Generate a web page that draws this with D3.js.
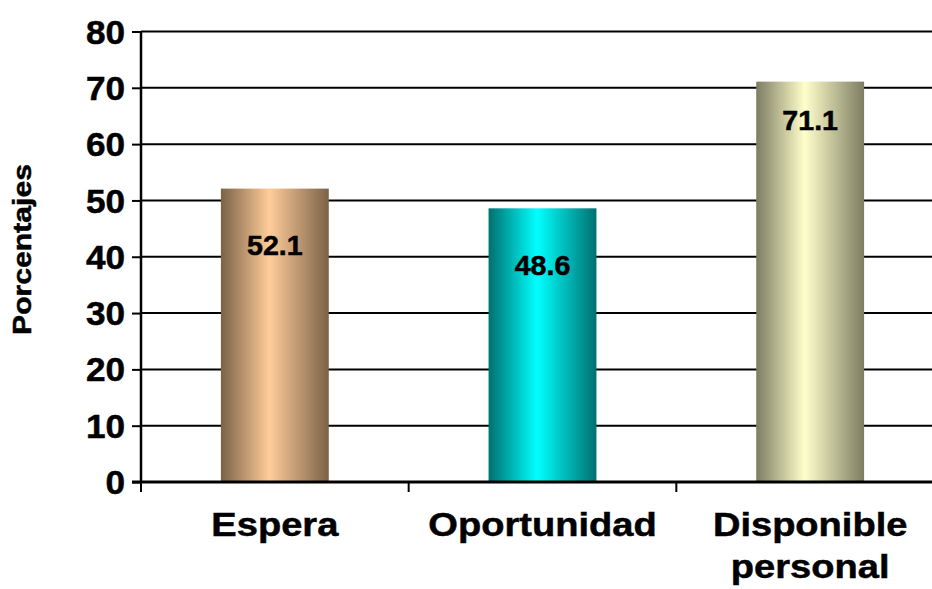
<!DOCTYPE html>
<html>
<head>
<meta charset="utf-8">
<script src="https://cdn.jsdelivr.net/npm/d3@7"></script>
<style>
  html, body { margin: 0; padding: 0; background: #fff; }
  svg { display: block; }
  text { font-family: "Liberation Sans", Arial, sans-serif; font-weight: bold; fill: #000; stroke: #000; stroke-width: 0.5px; }
</style>
</head>
<body>
<svg id="chart" width="932" height="589"></svg>
<script>
const categories = [["Espera"], ["Oportunidad"], ["Disponible", "personal"]];
const values = [52.1, 48.6, 71.1];
const valueLabels = ["52.1", "48.6", "71.1"];
const yTicks = [0, 10, 20, 30, 40, 50, 60, 70, 80];
const axisTitle = "Porcentajes";
const barColors = [
  { edge: "#7a6248", light: "#ffcc99" },
  { edge: "#007070", light: "#00ffff" },
  { edge: "#7d7d62", light: "#ffffcc" }
];
// label centre sits this many units below the bar top (style)
const labelDrop = [10.1, 10.1, 6.8];

const svg = d3.select("#chart");
const plotL = 141, plotR = 944, plotT = 31.5, plotB = 482;

const x = d3.scaleBand().domain(d3.range(categories.length)).range([plotL, plotR]).padding(0);
const y = d3.scaleLinear().domain([0, 80]).range([plotB, plotT]);
const barW = x.bandwidth() * 0.403;

const defs = svg.append("defs");
barColors.forEach((c, i) => {
  const g = defs.append("linearGradient").attr("id", "g" + i)
    .attr("x1", "0%").attr("x2", "100%").attr("y1", "0%").attr("y2", "0%");
  g.append("stop").attr("offset", "0%").attr("stop-color", c.edge);
  g.append("stop").attr("offset", "45%").attr("stop-color", c.light);
  g.append("stop").attr("offset", "100%").attr("stop-color", c.edge);
});

// gridlines
svg.append("g").selectAll("line").data(yTicks.filter(d => d > 0)).join("line")
  .attr("x1", plotL).attr("x2", 932)
  .attr("y1", d => y(d)).attr("y2", d => y(d))
  .attr("stroke", "#000").attr("stroke-width", 2);

// bars
svg.append("g").selectAll("rect").data(values).join("rect")
  .attr("x", (d, i) => x(i) + (x.bandwidth() - barW) / 2)
  .attr("width", barW)
  .attr("y", d => y(d))
  .attr("height", d => y(0) - y(d))
  .attr("fill", (d, i) => `url(#g${i})`);

// y axis (line + ticks via d3.axisLeft, labels drawn stretched)
const yAxis = d3.axisLeft(y).tickValues(yTicks).tickSize(9).tickFormat("");
const ya = svg.append("g").attr("transform", `translate(${plotL},0)`).call(yAxis);
ya.select(".domain").attr("stroke", "#000").attr("stroke-width", 2.5).attr("d", `M0,${plotT}V${plotB}`);
ya.selectAll(".tick line").attr("stroke", "#000").attr("stroke-width", 2);
svg.append("g").selectAll("text").data(yTicks).join("text")
  .attr("text-anchor", "end").attr("font-size", 33.5).attr("dy", "0.36em")
  .attr("transform", d => `translate(${plotL - 16},${y(d)}) scale(1.05,1)`)
  .text(d3.format("d"));

// x axis
svg.append("line").attr("x1", plotL - 9).attr("x2", 932).attr("y1", plotB).attr("y2", plotB)
  .attr("stroke", "#000").attr("stroke-width", 3);
svg.append("g").selectAll("line").data(d3.range(categories.length + 1)).join("line")
  .attr("x1", i => plotL + i * x.step()).attr("x2", i => plotL + i * x.step())
  .attr("y1", plotB).attr("y2", plotB + 10)
  .attr("stroke", "#000").attr("stroke-width", 2);

// category labels
const cl = svg.append("g").selectAll("text").data(categories).join("text")
  .attr("text-anchor", "middle").attr("font-size", 34)
  .attr("transform", (d, i) => `translate(${x(i) + x.bandwidth() / 2},536) scale(1.12,1)`);
cl.selectAll("tspan").data(d => d).join("tspan")
  .attr("x", 0)
  .attr("dy", (d, j) => j === 0 ? 0 : 42)
  .text(d => d);

// value labels
svg.append("g").selectAll("text").data(values).join("text")
  .attr("text-anchor", "middle").attr("font-size", 27)
  .attr("dy", "0.36em")
  .attr("transform", (d, i) => `translate(${x(i) + x.bandwidth() / 2},${y(d - labelDrop[i])}) scale(1.06,1)`)
  .text((d, i) => valueLabels[i]);

// axis title
svg.append("text").attr("font-size", 26).attr("text-anchor", "middle")
  .attr("transform", "translate(31,249.5) rotate(-90) scale(1.16,1)")
  .text(axisTitle);
</script>
</body>
</html>
